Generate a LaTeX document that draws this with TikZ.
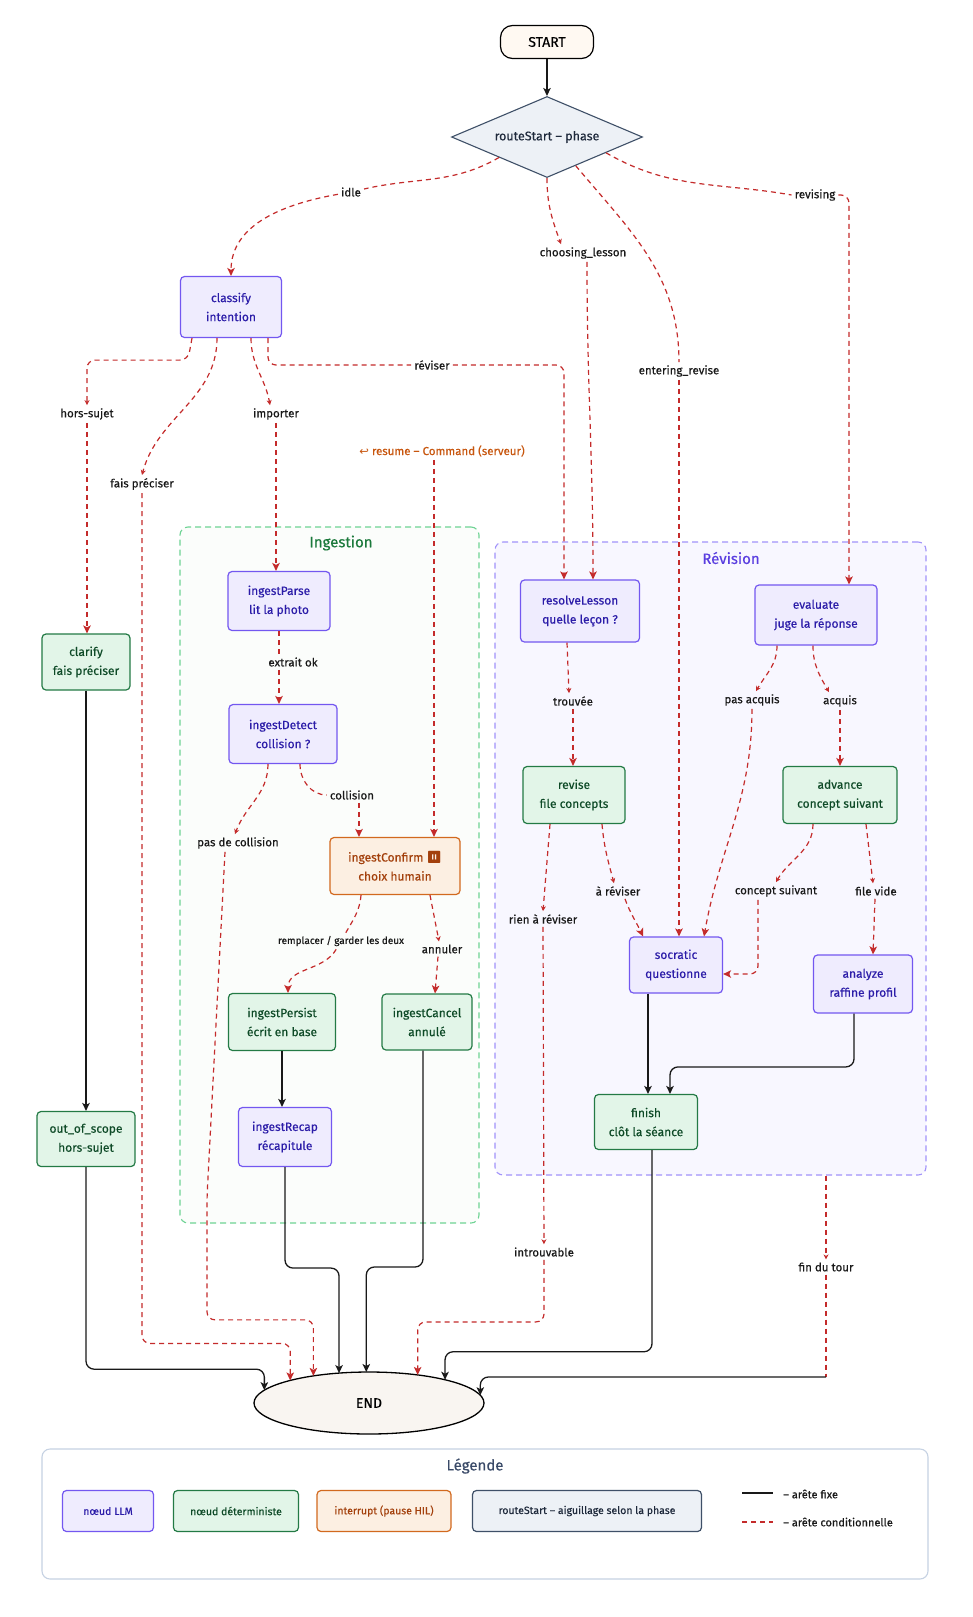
\documentclass[tikz,border=0pt]{standalone}
\usepackage{fontspec}
\setmainfont{Fira Sans}[FakeBold = 0.35]
\newfontfamily\symfont{DejaVu Sans}
\newfontfamily\emojifont{Noto Emoji}
\usetikzlibrary{arrows.meta, shapes.geometric, positioning}

\definecolor{llmFill}{HTML}{EFECFE}
\definecolor{llmDraw}{HTML}{7357F0}
\definecolor{llmText}{HTML}{2B1CA8}
\definecolor{detFill}{HTML}{E2F5E8}
\definecolor{detDraw}{HTML}{237A45}
\definecolor{detText}{HTML}{0E4A27}
\definecolor{hilFill}{HTML}{FCEFE2}
\definecolor{hilDraw}{HTML}{D2691E}
\definecolor{hilText}{HTML}{A3400C}
\definecolor{routeFill}{HTML}{EDF1F6}
\definecolor{routeDraw}{HTML}{3F5068}
\definecolor{routeText}{HTML}{1E293B}
\definecolor{condRed}{HTML}{C42B2B}
\definecolor{ingestLine}{HTML}{6ED394}
\definecolor{ingestFill}{HTML}{FBFDFB}
\definecolor{ingestTitle}{HTML}{1C7A3C}
\definecolor{revLine}{HTML}{A193FA}
\definecolor{revFill}{HTML}{F8F7FF}
\definecolor{revTitle}{HTML}{5A3EE0}
\definecolor{legendLine}{HTML}{C6D2E3}
\definecolor{legendTitle}{HTML}{3A4A68}
\definecolor{resumeText}{HTML}{C8560E}
\definecolor{startFill}{HTML}{FFF9F2}
\definecolor{endFill}{HTML}{F9F5F1}

\begin{document}
\begin{tikzpicture}[
        x = 1pt, y = 1pt, node distance = 100pt, on grid,
        >= {Stealth[length = 8pt, width = 7.5pt, inset = 2pt]},
        box/.style = {rectangle, rounded corners = 4pt, line width = 1.2pt, align = center,
                      font = \fontsize{12}{19}\selectfont, inner sep = 2pt},
        llm/.style = {box, draw = llmDraw, fill = llmFill, text = llmText},
        det/.style = {box, draw = detDraw, fill = detFill, text = detText},
        hil/.style = {box, draw = hilDraw, fill = hilFill, text = hilText},
        routebox/.style = {box, draw = routeDraw, fill = routeFill, text = routeText},
        lbl/.style = {font = \fontsize{11.5}{13}\selectfont, text = black!90, inner sep = 3pt},
        fixe/.style = {->, line width = 1.3pt, black!90, rounded corners = 8pt},
        cond/.style = {->, line width = 1.2pt, condRed, dash pattern = on 5pt off 4pt, rounded corners = 8pt},
        condlbl/.style = {cond, -{Stealth[length = 5pt, width = 5pt, inset = 1.5pt]}},
        condnone/.style = {cond, -},
        grp/.style = {rectangle, rounded corners = 8pt, line width = 1.1pt, dash pattern = on 6pt off 4pt},
        titre/.style = {font = \fontsize{15}{18}\selectfont},
        legitem/.style = {minimum height = 41pt, font = \fontsize{10.5}{13}\selectfont}
    ]
    \useasboundingbox (0, 0) rectangle (973, -1617);
    \fill[white] (0, 0) rectangle (973, -1617);

    % groupes
    \node[grp, draw = ingestLine, fill = ingestFill, minimum width = 299pt, minimum height = 696pt] (ingestGrp) at (329.5, -875) {};
    \node[titre, text = ingestTitle] (ingestTitre) at (341, -543) {Ingestion};
    \node[grp, draw = revLine, fill = revFill, minimum width = 431pt, minimum height = 633pt] (revGrp) at (710.5, -858.5) {};
    \node[titre, text = revTitle] (revTitre) at (731, -558) {Révision};

    % noeuds
    \node[draw, rounded corners = 12pt, line width = 1.2pt, fill = startFill, minimum width = 93pt, minimum height = 33pt,
          font = \fontsize{14}{16}\selectfont] (start) at (547, -42) {START};
    \node[diamond, draw = routeDraw, fill = routeFill, line width = 1.1pt, minimum width = 191pt, minimum height = 81pt,
          inner sep = 1pt, aspect = 2.36, text = routeText, font = \fontsize{12.5}{15}\selectfont] (routeStart) [below = 95pt of start] {routeStart – phase};

    \node[llm, minimum width = 101pt, minimum height = 61pt] (classify) at (231, -307) {classify\\intention};
    \node[det, minimum width = 88pt, minimum height = 56pt] (clarify) at (86, -662) {clarify\\fais préciser};
    \node[det, minimum width = 98pt, minimum height = 55pt] (outOfScope) [below = 477pt of clarify] {out\_of\_scope\\hors-sujet};

    \node[llm, minimum width = 102pt, minimum height = 59pt] (ingestParse) at (279, -601) {ingestParse\\lit la photo};
    \node[llm, minimum width = 108pt, minimum height = 59pt] (ingestDetect) [below right = 133pt and 4pt of ingestParse] {ingestDetect\\collision ?};
    \node[hil, minimum width = 130pt, minimum height = 57pt] (ingestConfirm) at (395, -866) {ingestConfirm {\emojifont ⏸}\\choix humain};
    \node[det, minimum width = 107pt, minimum height = 57pt] (ingestPersist) at (282, -1022) {ingestPersist\\écrit en base};
    \node[det, minimum width = 90pt, minimum height = 56pt] (ingestCancel) [right = 145pt of ingestPersist] {ingestCancel\\annulé};
    \node[llm, minimum width = 93pt, minimum height = 59pt] (ingestRecap) [below right = 115pt and 3pt of ingestPersist] {ingestRecap\\récapitule};

    \node[llm, minimum width = 119pt, minimum height = 62pt] (resolve) at (580, -611) {resolveLesson\\quelle leçon ?};
    \node[llm, minimum width = 122pt, minimum height = 60pt] (evaluate) at (816, -615) {evaluate\\juge la réponse};
    \node[det, minimum width = 102pt, minimum height = 57pt] (revise) at (574, -795) {revise\\file concepts};
    \node[det, minimum width = 114pt, minimum height = 57pt] (advance) [right = 266pt of revise] {advance\\concept suivant};
    \node[llm, minimum width = 93pt, minimum height = 56pt] (socratic) at (676, -965) {socratic\\questionne};
    \node[llm, minimum width = 99pt, minimum height = 58pt] (analyze) at (863, -984) {analyze\\raffine profil};
    \node[det, minimum width = 103pt, minimum height = 55pt] (finish) at (646, -1122) {finish\\clôt la séance};

    \node[ellipse, draw, line width = 1.3pt, fill = endFill, minimum width = 230pt, minimum height = 62pt,
          inner sep = 0pt, outer sep = 0pt, font = \fontsize{14}{16}\selectfont] (endNode) at (369, -1403) {END};

    % etiquettes
    \node[lbl] (lblIdle) at (351, -192) {idle};
    \node[lbl] (lblChoosing) at (583, -253) {choosing\_lesson};
    \node[lbl] (lblRevising) at (815, -195) {revising};
    \node[lbl] (lblEntering) at (679, -371) {entering\_revise};
    \node[lbl] (lblReviser) at (432, -365) {réviser};
    \node[lbl] (lblHors) at (87, -414) {hors-sujet};
    \node[lbl] (lblImporter) at (276, -414) {importer};
    \node[lbl] (lblFais) at (142, -484) {fais préciser};
    \node[lbl, text = resumeText] (lblResume) at (442, -451) {{\symfont ↩} resume – Command (serveur)};
    \node[lbl] (lblExtrait) at (293, -662) {extrait ok};
    \node[lbl] (lblCollision) at (352, -795) {collision};
    \node[lbl] (lblPasCollision) at (238, -843) {pas de collision};
    \node[lbl, font = \fontsize{10}{12}\selectfont] (lblRemplacer) at (341, -941) {remplacer / garder les deux};
    \node[lbl] (lblAnnuler) at (442, -949) {annuler};
    \node[lbl] (lblTrouvee) at (573, -701) {trouvée};
    \node[lbl] (lblPasAcquis) at (752, -700) {pas acquis};
    \node[lbl] (lblAcquis) at (840, -701) {acquis};
    \node[lbl] (lblAReviser) at (618, -891) {à réviser};
    \node[lbl] (lblRien) at (543, -919) {rien à réviser};
    \node[lbl] (lblConceptSuivant) at (776, -891) {concept suivant};
    \node[lbl] (lblFileVide) at (876, -891) {file vide};
    \node[lbl] (lblIntrouvable) at (544, -1252) {introuvable};
    \node[lbl] (lblFin) at (826, -1267) {fin du tour};

    % depart et aiguillage
    \draw[fixe] (start) -- (routeStart);
    \draw[condnone] (routeStart.south west) to[out = 210, in = 13] (lblIdle);
    \draw[cond] (lblIdle) to[out = 190, in = 90] (classify.north);
    \draw[condlbl] (routeStart.south) to[out = -90, in = 110] ([xshift = -22pt]lblChoosing.north);
    \draw[cond] ([xshift = 4pt]lblChoosing.south) to[out = -90, in = 90] ([xshift = 13pt]resolve.north);
    \draw[condnone] (routeStart.-45) to[out = -50, in = 90] (lblEntering.north);
    \draw[cond] (lblEntering) -- (lblEntering |- socratic.north);
    \draw[condnone] (routeStart.-15) to[out = -30, in = 170] (lblRevising.west);
    \draw[cond] (lblRevising.east) -| ([xshift = 33pt]evaluate.north);

    % intention
    \draw[condlbl] ([xshift = -39pt]classify.south) -- ++(-4, -22) -| (lblHors.north);
    \draw[cond] (lblHors) -- (lblHors |- clarify.north);
    \draw[condlbl] ([xshift = -14pt]classify.south) to[out = -90, in = 75] (lblFais.north);
    \draw[cond] (lblFais.south) |- ([yshift = 37pt]endNode.164) -- (endNode.164);
    \draw[condlbl] ([xshift = 20pt]classify.south) to[out = -90, in = 100] ([xshift = -6pt]lblImporter.north);
    \draw[cond] (lblImporter.south) -- (lblImporter.south |- ingestParse.north);
    \draw[condnone] ([xshift = 37pt]classify.south) |- (lblReviser.west);
    \draw[cond] (lblReviser.east) -| ([xshift = -16pt]resolve.north);
    \draw[fixe] (clarify.south) -- (clarify.south |- outOfScope.north);
    \draw[fixe] (outOfScope.south) |- ([yshift = 21pt]endNode.173) -- (endNode.173);

    % ingestion
    \draw[cond] ([xshift = -8pt]lblResume.south) -- ([xshift = 39pt]ingestConfirm.north);
    \draw[condnone] (ingestParse.south) -- (ingestParse.south |- lblExtrait.north);
    \draw[cond] (ingestParse.south |- lblExtrait.south) -- (ingestParse.south |- ingestDetect.north);
    \draw[condnone] ([xshift = 17pt]ingestDetect.south) to[out = -90, in = 180] (lblCollision.west);
    \draw[cond] ([xshift = 7pt]lblCollision.south) -- ([xshift = -36pt]ingestConfirm.north);
    \draw[condlbl] ([xshift = -15pt]ingestDetect.south) to[out = -90, in = 70] ([xshift = -3pt]lblPasCollision.north);
    \draw[cond] ([xshift = -13pt]lblPasCollision.south) -- ++(-18, -345) |- ([yshift = 56pt]endNode.154) -- (endNode.154);
    \draw[condnone] ([xshift = -34pt]ingestConfirm.south) to[out = -95, in = 60] (lblRemplacer);
    \draw[cond] (lblRemplacer) to[out = -120, in = 90] ([xshift = 6pt]ingestPersist.north);
    \draw[condlbl] ([xshift = 35pt]ingestConfirm.south) -- ([xshift = -3pt]lblAnnuler.north);
    \draw[cond] ([xshift = -4pt]lblAnnuler.south) -- ([xshift = 8pt]ingestCancel.north);
    \draw[fixe] (ingestPersist.south) -- (ingestPersist.south |- ingestRecap.north);
    \draw[fixe] (ingestRecap.south) |- ([yshift = 105pt]endNode.135) -- (endNode.135);
    \draw[fixe] ([xshift = -4pt]ingestCancel.south) |- ([yshift = 105pt]endNode.95) -- (endNode.95);

    % revision
    \draw[condlbl] ([xshift = -13pt]resolve.south) -- ([xshift = -4pt]lblTrouvee.north);
    \draw[cond] (lblTrouvee.south) -- (lblTrouvee.south |- revise.north);
    \draw[condlbl] ([xshift = -39pt]evaluate.south) to[out = -90, in = 60] ([xshift = 4pt]lblPasAcquis.north);
    \draw[cond] (lblPasAcquis.south) to[out = -90, in = 80] ([xshift = 28pt]socratic.north);
    \draw[condlbl] ([xshift = -3pt]evaluate.south) to[out = -90, in = 120] ([xshift = -11pt]lblAcquis.north);
    \draw[cond] (lblAcquis.south) -- (lblAcquis.south |- advance.north);
    \draw[condlbl] ([xshift = 28pt]revise.south) to[out = -85, in = 105] ([xshift = -4pt]lblAReviser.north);
    \draw[cond] ([xshift = 7pt]lblAReviser.south) to[out = -70, in = 115] ([xshift = -33pt]socratic.north);
    \draw[condlbl] ([xshift = -24pt]revise.south) -- (lblRien.north);
    \draw[condlbl] (lblRien) -- (lblIntrouvable);
    \draw[cond] (lblIntrouvable.south) |- ([yshift = 53pt]endNode.30) -- (endNode.30);
    \draw[condlbl] ([xshift = -27pt]advance.south) to[out = -90, in = 60] (lblConceptSuivant.north);
    \draw[cond] ([xshift = -18pt]lblConceptSuivant.south) |- ([yshift = -9pt]socratic.east);
    \draw[condlbl] ([xshift = 26pt]advance.south) -- ([xshift = -3pt]lblFileVide.north);
    \draw[cond] ([xshift = -1pt]lblFileVide.south) -- ([xshift = 10pt]analyze.north);
    \draw[fixe] ([xshift = -28pt]socratic.south) -- ([xshift = 2pt]finish.north);
    \draw[fixe] ([xshift = -9pt]analyze.south) |- ([xshift = 24pt, yshift = 27pt]finish.north) -- ([xshift = 24pt]finish.north);
    \draw[fixe] ([xshift = 6pt]finish.south) |- ([yshift = 28pt]endNode.17) -- (endNode.17);

    % fin du tour
    \coordinate (finCoude) at (826, -1377);
    \draw[condlbl] (revGrp.south -| lblFin) -- (lblFin.north);
    \draw[condnone] (lblFin.south) -- (finCoude);
    \draw[fixe] (finCoude) -| (endNode.4);

    % legende
    \node[rectangle, rounded corners = 8pt, draw = legendLine, line width = 1.1pt, fill = white,
          minimum width = 886pt, minimum height = 130pt] (legende) at (485, -1514) {};
    \node[titre, text = legendTitle] (legendeTitre) at (475, -1466) {Légende};
    \node[llm, legitem, minimum width = 91pt] (legLLM) at (108, -1511) {nœud LLM};
    \node[det, legitem, minimum width = 125pt] (legDet) [right = 128pt of legLLM] {nœud déterministe};
    \node[hil, legitem, minimum width = 134pt] (legHil) [right = 148pt of legDet] {interrupt (pause HIL)};
    \node[routebox, legitem, minimum width = 229pt] (legRoute) [right = 203pt of legHil] {routeStart – aiguillage selon la phase};
    \coordinate (fixeA) at (742, -1493);
    \coordinate (fixeB) at (773, -1493);
    \draw[fixe, -] (fixeA) -- (fixeB);
    \node[lbl, anchor = west, font = \fontsize{11}{13}\selectfont] (legFixe) at (780, -1494) {– arête fixe};
    \coordinate (condA) at (742, -1522);
    \coordinate (condB) at (773, -1522);
    \draw[condnone] (condA) -- (condB);
    \node[lbl, anchor = west, font = \fontsize{11}{13}\selectfont] (legCond) at (780, -1522) {– arête conditionnelle};
\end{tikzpicture}
\end{document}
